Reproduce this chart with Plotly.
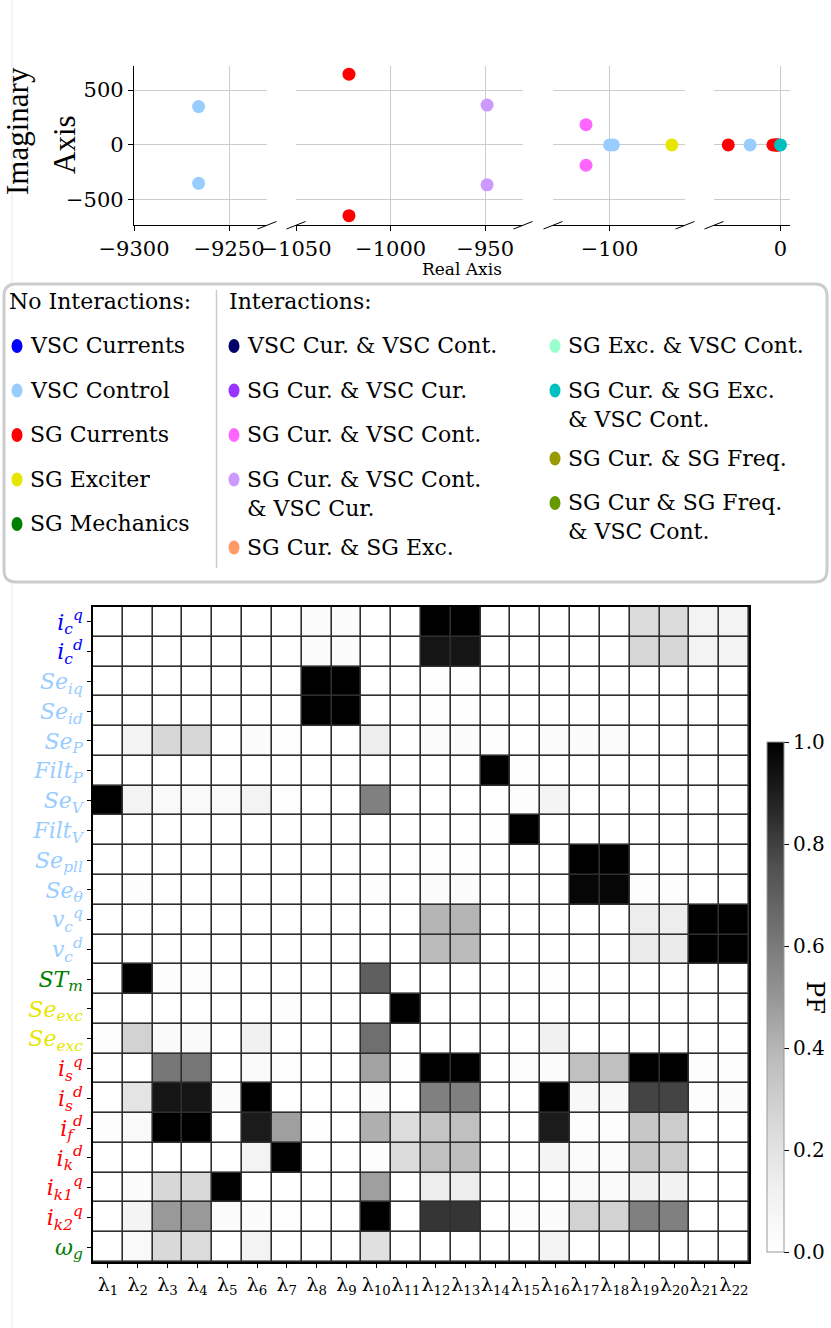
import plotly.graph_objects as go

W, H = 831, 1328
FONT = "DejaVu Serif"


def fx(p):
    return p / W


def fy(p):
    return 1 - p / H


# ---------------- eigenvalues (top panels) ----------------
eig_re = [-9266, -9266, -1022, -1022, -949, -949, -112.5, -112.5, -100, -98,
          -67, -27.5, -16, -4, -3, -2.5, -2, -1.5, -1, 0]
eig_im = [350, -350, 645, -645, 364, -364, 185, -185, 0, 0,
          0, 0, 0, 0, 0, 0, 0, 0, 0, 0]
eig_color = ["#99ccff", "#99ccff", "#ff0000", "#ff0000", "#cc99ff", "#cc99ff",
             "#ff66ff", "#ff66ff", "#99ccff", "#99ccff",
             "#e6e600", "#ff0000", "#99ccff", "#ff0000", "#ff0000", "#ff0000",
             "#ff0000", "#ff0000", "#ff0000", "#00bfbf"]

panel_ranges = [(-9300, -9230), (-1050, -930), (-130, -60), (-35, 5)]
panel_ticks = [[-9300, -9250], [-1050, -1000, -950], [-100], [0]]
panel_px = [(134, 267), (296, 523), (553, 685), (714, 790)]
imag_range = [-730, 720]
imag_ticks = [-500, 0, 500]

# ---------------- participation factors (heatmap) ----------------
modes = ["λ<sub>%d</sub>" % k for k in range(1, 23)]

state_labels = [
    "<i>i</i><sub><i>c</i></sub><sup><i>q</i></sup>",
    "<i>i</i><sub><i>c</i></sub><sup><i>d</i></sup>",
    "<i>Se</i><sub><i>iq</i></sub>",
    "<i>Se</i><sub><i>id</i></sub>",
    "<i>Se</i><sub><i>P</i></sub>",
    "<i>Filt</i><sub><i>P</i></sub>",
    "<i>Se</i><sub><i>V</i></sub>",
    "<i>Filt</i><sub><i>V</i></sub>",
    "<i>Se</i><sub><i>pll</i></sub>",
    "<i>Se</i><sub><i>θ</i></sub>",
    "<i>v</i><sub><i>c</i></sub><sup><i>q</i></sup>",
    "<i>v</i><sub><i>c</i></sub><sup><i>d</i></sup>",
    "<i>ST</i><sub><i>m</i></sub>",
    "<i>Se</i><sub><i>exc</i></sub>",
    "<i>Se</i><sub><i>exc</i></sub>",
    "<i>i</i><sub><i>s</i></sub><sup><i>q</i></sup>",
    "<i>i</i><sub><i>s</i></sub><sup><i>d</i></sup>",
    "<i>i</i><sub><i>f</i></sub><sup><i>d</i></sup>",
    "<i>i</i><sub><i>k</i></sub><sup><i>d</i></sup>",
    "<i>i</i><sub><i>k1</i></sub><sup><i>q</i></sup>",
    "<i>i</i><sub><i>k2</i></sub><sup><i>q</i></sup>",
    "<i>ω</i><sub><i>g</i></sub>",
]
state_colors = ["#0000ff"] * 2 + ["#99ccff"] * 10 + ["#008000"] + ["#e6e600"] * 2 \
    + ["#ff0000"] * 6 + ["#008000"]

pf = [
    [0, 0, 0, 0, 0, 0, 0, 0.03, 0.03, 0, 0, 1, 1, 0, 0, 0, 0, 0, 0.24, 0.24, 0.1, 0.1],
    [0, 0, 0, 0, 0, 0, 0, 0.03, 0.03, 0, 0, 0.93, 0.93, 0, 0, 0, 0, 0, 0.26, 0.26, 0.1, 0.1],
    [0, 0, 0, 0, 0, 0, 0, 1, 1, 0, 0, 0.01, 0.01, 0, 0, 0, 0, 0, 0, 0, 0, 0],
    [0, 0, 0, 0, 0, 0, 0, 1, 1, 0, 0, 0.01, 0.01, 0, 0, 0, 0, 0, 0, 0, 0, 0],
    [0, 0.1, 0.26, 0.26, 0, 0.03, 0.01, 0, 0, 0.14, 0, 0.03, 0.03, 0.02, 0, 0.03, 0.03, 0.03, 0, 0, 0, 0],
    [0, 0, 0, 0, 0, 0, 0, 0, 0, 0, 0, 0, 0, 1, 0.01, 0, 0, 0, 0, 0, 0, 0],
    [1, 0.1, 0.05, 0.05, 0.05, 0.1, 0.01, 0, 0, 0.58, 0, 0, 0, 0, 0.02, 0.09, 0, 0, 0, 0, 0, 0],
    [0, 0, 0, 0, 0, 0, 0, 0, 0, 0, 0, 0, 0, 0.01, 1, 0, 0, 0, 0, 0, 0, 0],
    [0, 0, 0, 0, 0, 0, 0, 0, 0, 0, 0, 0.01, 0.01, 0, 0, 0, 1, 1, 0, 0, 0, 0],
    [0, 0.02, 0, 0, 0, 0, 0, 0, 0, 0.02, 0, 0.03, 0.03, 0, 0, 0, 0.98, 0.98, 0.02, 0.02, 0, 0],
    [0, 0, 0, 0, 0, 0, 0, 0, 0, 0, 0, 0.4, 0.4, 0, 0, 0, 0, 0, 0.14, 0.14, 1, 1],
    [0, 0, 0, 0, 0, 0, 0, 0, 0, 0, 0, 0.38, 0.38, 0, 0, 0, 0, 0, 0.16, 0.16, 1, 1],
    [0, 1, 0.02, 0.02, 0, 0, 0, 0, 0, 0.7, 0, 0, 0, 0, 0, 0.01, 0, 0, 0, 0, 0, 0],
    [0, 0, 0, 0, 0, 0, 0.02, 0, 0, 0, 1, 0, 0, 0, 0, 0, 0, 0, 0, 0, 0, 0],
    [0.02, 0.28, 0.04, 0.04, 0, 0.12, 0, 0, 0, 0.64, 0, 0, 0, 0, 0, 0.12, 0, 0, 0, 0, 0, 0],
    [0, 0, 0.61, 0.61, 0, 0.04, 0.01, 0, 0, 0.46, 0.01, 1, 1, 0, 0.02, 0.03, 0.36, 0.36, 1, 1, 0.02, 0.02],
    [0, 0.19, 0.93, 0.93, 0.03, 1, 0, 0, 0, 0.03, 0, 0.58, 0.58, 0, 0, 1, 0.06, 0.06, 0.79, 0.79, 0.02, 0.03],
    [0.02, 0.05, 1, 1, 0, 0.91, 0.47, 0.01, 0, 0.42, 0.23, 0.34, 0.36, 0, 0, 0.91, 0.02, 0.02, 0.33, 0.31, 0, 0],
    [0, 0, 0, 0, 0, 0.1, 1, 0, 0, 0.02, 0.24, 0.36, 0.37, 0, 0, 0.09, 0.03, 0.03, 0.33, 0.31, 0, 0],
    [0, 0.03, 0.26, 0.25, 1, 0, 0, 0, 0, 0.47, 0, 0.14, 0.14, 0, 0, 0, 0.04, 0.04, 0.12, 0.11, 0, 0],
    [0, 0.09, 0.49, 0.49, 0.03, 0.03, 0.01, 0, 0, 1, 0, 0.83, 0.83, 0, 0.02, 0.03, 0.28, 0.28, 0.58, 0.58, 0, 0],
    [0, 0.05, 0.25, 0.24, 0, 0.1, 0, 0, 0, 0.21, 0, 0, 0, 0, 0, 0.1, 0, 0, 0, 0, 0, 0],
]

greys = [[0, "#ffffff"], [0.125, "#f0f0f0"], [0.25, "#d9d9d9"], [0.375, "#bdbdbd"],
         [0.5, "#969696"], [0.625, "#737373"], [0.75, "#525252"], [0.875, "#252525"],
         [1, "#000000"]]

# ---------------- legend ----------------
noint_labels = ["VSC Currents", "VSC Control", "SG Currents", "SG Exciter", "SG Mechanics"]
noint_colors = ["#0000ff", "#99ccff", "#ff0000", "#e6e600", "#008000"]
inta_labels = ["VSC Cur. & VSC Cont.", "SG Cur. & VSC Cur.", "SG Cur. & VSC Cont.",
               "SG Cur. & VSC Cont.<br>& VSC Cur.", "SG Cur. & SG Exc."]
inta_colors = ["#000066", "#9933ff", "#ff66ff", "#cc99ff", "#ff9966"]
intb_labels = ["SG Exc. & VSC Cont.", "SG Cur. & SG Exc.<br>& VSC Cont.",
               "SG Cur. & SG Freq.", "SG Cur & SG Freq.<br>& VSC Cont."]
intb_colors = ["#99ffcc", "#00bfbf", "#999900", "#669900"]

fig = go.Figure()
layout = dict(width=W, height=H, margin=dict(l=0, r=0, t=0, b=0, autoexpand=False),
              paper_bgcolor="white", plot_bgcolor="white", showlegend=False,
              font=dict(family=FONT, size=20, color="black"))
shapes = []
annotations = []

# top panels
for i, (rng, ticks, (p0, p1)) in enumerate(zip(panel_ranges, panel_ticks, panel_px)):
    n = i + 1
    xs = [r for r in eig_re if rng[0] <= r <= rng[1]]
    ys = [im for r, im in zip(eig_re, eig_im) if rng[0] <= r <= rng[1]]
    cs = [c for r, c in zip(eig_re, eig_color) if rng[0] <= r <= rng[1]]
    fig.add_trace(go.Scatter(x=xs, y=ys, mode="markers", xaxis="x%d" % n, yaxis="y%d" % n,
                             marker=dict(size=13, color=cs, line=dict(width=0)),
                             cliponaxis=False))
    layout["xaxis%d" % n] = dict(
        domain=[fx(p0), fx(p1)], range=list(rng), anchor="y%d" % n, automargin=False,
        tickvals=ticks, ticktext=[("−%d" % -t) if t < 0 else str(t) for t in ticks],
        showline=True, linecolor="black", linewidth=1.3, ticks="outside", ticklen=5,
        tickcolor="black", showgrid=True, gridcolor="#cccccc", gridwidth=1, tickangle=0,
        zeroline=False, tickfont=dict(size=21, family=FONT), fixedrange=True)
    layout["yaxis%d" % n] = dict(
        domain=[fy(225), fy(66)], range=imag_range, anchor="x%d" % n, automargin=False,
        tickvals=imag_ticks, ticktext=["−500", "0", "500"],
        showline=(n == 1), linecolor="black", linewidth=1.3,
        ticks="outside" if n == 1 else "", ticklen=5, tickcolor="black",
        showticklabels=(n == 1), showgrid=True, gridcolor="#cccccc", gridwidth=1,
        zeroline=False, tickfont=dict(size=21, family=FONT), fixedrange=True)
    # broken-axis marks
    if n > 1:
        shapes.append(dict(type="line", xref="paper", yref="paper",
                           x0=fx(p0 - 9.5), x1=fx(p0 + 9.5), y0=fy(229), y1=fy(221.5),
                           line=dict(color="black", width=1)))
    if n < 4:
        shapes.append(dict(type="line", xref="paper", yref="paper",
                           x0=fx(p1 - 9.5), x1=fx(p1 + 9.5), y0=fy(229), y1=fy(221.5),
                           line=dict(color="black", width=1)))

annotations.append(dict(text="Imaginary", x=fx(17), y=fy(131), xref="paper", yref="paper",
                        textangle=-90, showarrow=False, xanchor="center", yanchor="middle",
                        font=dict(family="Liberation Serif", size=31)))
annotations.append(dict(text="Axis", x=fx(64), y=fy(145), xref="paper", yref="paper",
                        textangle=-90, showarrow=False, xanchor="center", yanchor="middle",
                        font=dict(family="Liberation Serif", size=31)))
annotations.append(dict(text="Real Axis", x=fx(462), y=fy(269), xref="paper", yref="paper",
                        showarrow=False, xanchor="center", yanchor="middle",
                        font=dict(family=FONT, size=17)))

# heatmap
fig.add_trace(go.Heatmap(
    z=pf, x=list(range(len(modes))), y=list(range(len(state_labels))),
    xaxis="x5", yaxis="y5", colorscale=greys, zmin=0, zmax=1, xgap=1.6, ygap=1.6,
    colorbar=dict(x=fx(757), xanchor="left", thickness=17, len=530 / H, lenmode="fraction",
                  y=fy(1262), yanchor="bottom", outlinewidth=1, outlinecolor="#999999",
                  ticks="outside", ticklen=5, tickcolor="black",
                  tickvals=[0, 0.2, 0.4, 0.6, 0.8, 1.0], tickformat=".1f",
                  tickfont=dict(family=FONT, size=20))))
layout["xaxis5"] = dict(
    domain=[fx(93), fx(749)], range=[-0.5, len(modes) - 0.5], anchor="y5", automargin=False,
    tickvals=list(range(len(modes))), ticktext=modes, ticks="outside", ticklen=4,
    tickcolor="black", showline=True, mirror=True, linecolor="black", linewidth=1.5,
    tickangle=0, showgrid=False, zeroline=False, tickfont=dict(family=FONT, size=19),
    fixedrange=True)
layout["yaxis5"] = dict(
    domain=[fy(1262), fy(607)], range=[len(state_labels) - 0.5, -0.5], anchor="x5",
    automargin=False, tickvals=list(range(len(state_labels))),
    ticktext=['<span style="color:%s">%s</span>' % (c, t) for t, c in zip(state_labels, state_colors)],
    ticks="outside", ticklen=4, tickcolor="black", showline=True, mirror=True,
    linecolor="black", linewidth=1.5, showgrid=False, zeroline=False,
    tickfont=dict(family=FONT, size=22), fixedrange=True)
shapes.append(dict(type="rect", xref="x5 domain", yref="y5 domain", x0=0, x1=1, y0=0, y1=1,
                   fillcolor="#2e2e2e", line=dict(width=0), layer="below"))
annotations.append(dict(text="PF", x=fx(815), y=fy(997), xref="paper", yref="paper",
                        textangle=90, showarrow=False, xanchor="center", yanchor="middle",
                        font=dict(family=FONT, size=24)))

# legend box
bx0, bx1, by0, by1, rad = 4, 827, 284, 582, 12
path = ("M {a},{b} L {c},{b} Q {x1},{b} {x1},{d} L {x1},{e} Q {x1},{y1} {c},{y1} "
        "L {a},{y1} Q {x0},{y1} {x0},{e} L {x0},{d} Q {x0},{b} {a},{b} Z").format(
    a=fx(bx0 + rad), c=fx(bx1 - rad), b=fy(by0), d=fy(by0 + rad), e=fy(by1 - rad),
    x0=fx(bx0), x1=fx(bx1), y1=fy(by1))
shapes.append(dict(type="path", path=path, xref="paper", yref="paper",
                   line=dict(color="#cccccc", width=3), fillcolor="rgba(0,0,0,0)"))
shapes.append(dict(type="line", xref="paper", yref="paper", x0=fx(216.5), x1=fx(216.5),
                   y0=fy(290), y1=fy(568), line=dict(color="#cccccc", width=1.5)))
# faint page frame line
shapes.append(dict(type="line", xref="paper", yref="paper", x0=fx(12), x1=fx(12),
                   y0=fy(0), y1=fy(283), line=dict(color="#e8e8e8", width=1)))
shapes.append(dict(type="line", xref="paper", yref="paper", x0=fx(12), x1=fx(12),
                   y0=fy(583), y1=fy(1328), line=dict(color="#e8e8e8", width=1)))

for text, xpos in [("No Interactions:", 7), ("Interactions:", 227)]:
    annotations.append(dict(text=text, x=fx(xpos), y=fy(302), xref="paper", yref="paper",
                            showarrow=False, xanchor="left", yanchor="middle",
                            font=dict(family=FONT, size=22)))

for labels, colors, mx in [(noint_labels, noint_colors, 17),
                           (inta_labels, inta_colors, 234),
                           (intb_labels, intb_colors, 555)]:
    ypos = 346
    for lab, col in zip(labels, colors):
        shapes.append(dict(type="circle", xref="paper", yref="paper",
                           x0=fx(mx - 5.5), x1=fx(mx + 5.5), y0=fy(ypos - 7), y1=fy(ypos + 7),
                           fillcolor=col, line=dict(width=0)))
        annotations.append(dict(text=lab, x=fx(mx + 11), y=fy(ypos - 15), xref="paper",
                                yref="paper", showarrow=False, xanchor="left", yanchor="top",
                                align="left", font=dict(family=FONT, size=22)))
        ypos += 44.5 + 23.5 * lab.count("<br>")

layout["shapes"] = shapes
layout["annotations"] = annotations
fig.update_layout(**layout)
# page body has a default 8px margin; drop it so the figure sits at the window origin
fig.write_html("out.html", config={"displayModeBar": False},
               post_script="document.body.style.margin='0';document.body.style.overflow='hidden';")
